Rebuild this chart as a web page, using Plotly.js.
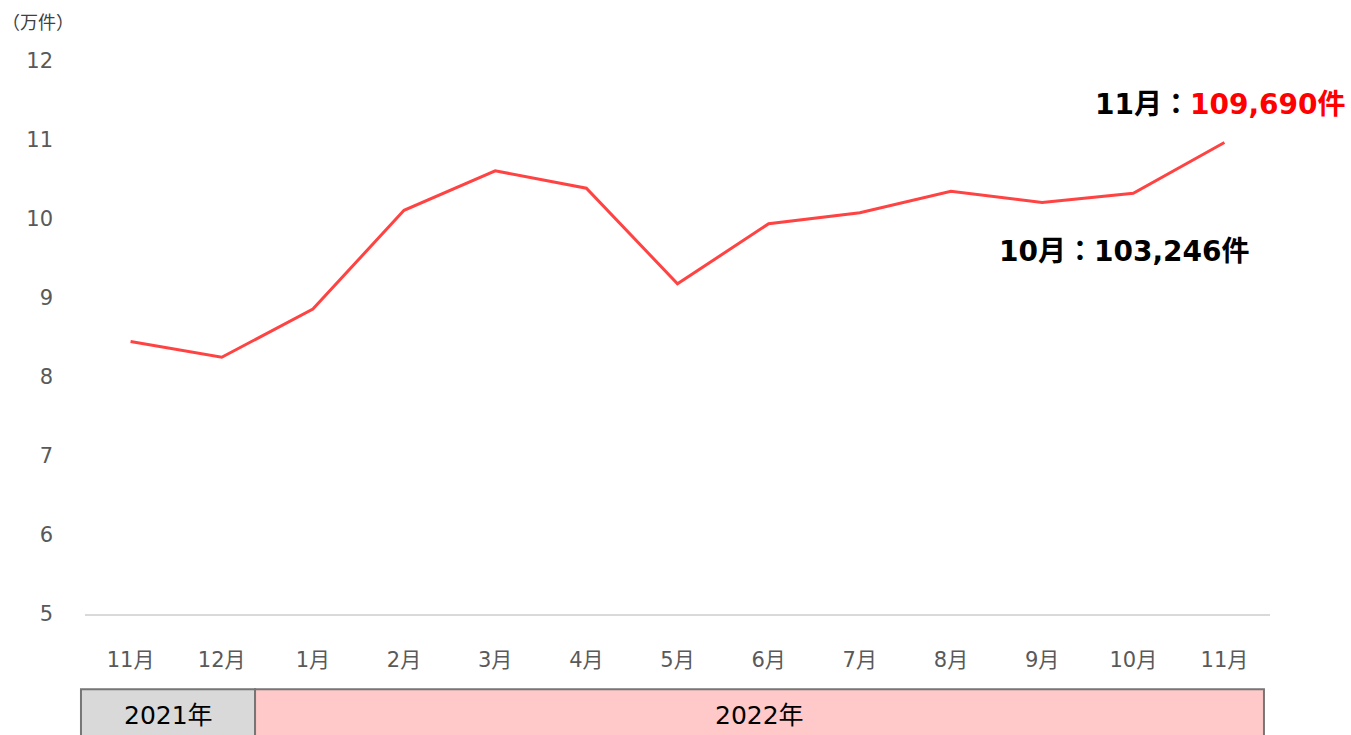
<!DOCTYPE html>
<html>
<head>
<meta charset="utf-8">
<script src="https://cdn.plot.ly/plotly-3.0.1.min.js"></script>
<style>
html,body{margin:0;padding:0;background:#fff;}
#chart{width:1351px;height:735px;}
</style>
</head>
<body>
<div id="chart"></div>
<script>
// Data (万件)
const monthLabels = ["11月","12月","1月","2月","3月","4月","5月","6月","7月","8月","9月","10月","11月"];
const values = [8.45, 8.25, 8.86, 10.11, 10.61, 10.39, 9.18, 9.94, 10.08, 10.35, 10.21, 10.3246, 10.969];
const yTicks = [5, 6, 7, 8, 9, 10, 11, 12];
const years = ["2021年", "2022年"];
const noteLatestLabel = "11月：";
const noteLatestValue = "109,690件";
const notePrev = "10月：103,246件";
const unitLabel = "（万件）";

const xIdx = monthLabels.map((_, i) => i);
const FONT = '"DejaVu Sans", "Noto Sans CJK JP", sans-serif';

const trace = {
  x: xIdx,
  y: values,
  type: 'scatter',
  mode: 'lines',
  line: {color: '#ff4343', width: 3},
  hoverinfo: 'skip'
};

// year band geometry (paper coords)
const bandTop = -0.136, bandBottom = -0.3;
const bandX = [-0.0034, 0.1435, 0.9949];

const layout = {
  width: 1351,
  height: 735,
  margin: {l: 85, r: 81, t: 61, b: 121},
  paper_bgcolor: '#ffffff',
  plot_bgcolor: '#ffffff',
  showlegend: false,
  font: {family: FONT, color: '#595959'},
  xaxis: {
    range: [-0.5, 12.5],
    tickmode: 'array',
    tickvals: xIdx,
    ticktext: monthLabels,
    showgrid: false,
    zeroline: false,
    showline: true,
    linecolor: '#d9d9d9',
    linewidth: 2,
    ticks: '',
    ticklabelstandoff: 26,
    tickfont: {family: FONT, size: 21, color: '#595959'},
    fixedrange: true
  },
  yaxis: {
    range: [5, 12],
    tickmode: 'array',
    tickvals: yTicks,
    ticktext: yTicks.map(String),
    showgrid: false,
    zeroline: false,
    showline: false,
    ticks: '',
    ticklabelstandoff: 31,
    tickfont: {family: FONT, size: 21, color: '#595959'},
    fixedrange: true
  },
  shapes: [
    {type: 'rect', xref: 'paper', yref: 'paper', x0: bandX[0], x1: bandX[1], y0: bandBottom, y1: bandTop,
     fillcolor: '#d9d9d9', line: {color: '#767676', width: 2}, layer: 'above'},
    {type: 'rect', xref: 'paper', yref: 'paper', x0: bandX[1], x1: bandX[2], y0: bandBottom, y1: bandTop,
     fillcolor: '#ffc9c9', line: {color: '#767676', width: 2}, layer: 'above'}
  ],
  annotations: [
    {xref: 'paper', yref: 'paper', x: (bandX[0] + bandX[1]) / 2, y: -0.184, text: years[0],
     showarrow: false, xanchor: 'center', yanchor: 'middle', font: {family: FONT, size: 25, color: '#000'}},
    {xref: 'paper', yref: 'paper', x: (bandX[1] + bandX[2]) / 2, y: -0.184, text: years[1],
     showarrow: false, xanchor: 'center', yanchor: 'middle', font: {family: FONT, size: 25, color: '#000'}},
    {xref: 'paper', yref: 'paper', x: -0.072, y: 1.07, text: unitLabel,
     showarrow: false, xanchor: 'left', yanchor: 'middle', font: {family: FONT, size: 18, color: '#404040'}},
    {xref: 'paper', yref: 'paper', x: 1.066, y: 0.922,
     text: '<b>' + noteLatestLabel + '</b><b><span style="color:#ff0000">' + noteLatestValue + '</span></b>',
     showarrow: false, xanchor: 'right', yanchor: 'middle', font: {family: FONT, size: 28, color: '#000'}},
    {xref: 'paper', yref: 'paper', x: 0.985, y: 0.655,
     text: '<b>' + notePrev + '</b>',
     showarrow: false, xanchor: 'right', yanchor: 'middle', font: {family: FONT, size: 28, color: '#000'}}
  ]
};

Plotly.newPlot('chart', [trace], layout, {displayModeBar: false, staticPlot: true});
</script>
</body>
</html>
